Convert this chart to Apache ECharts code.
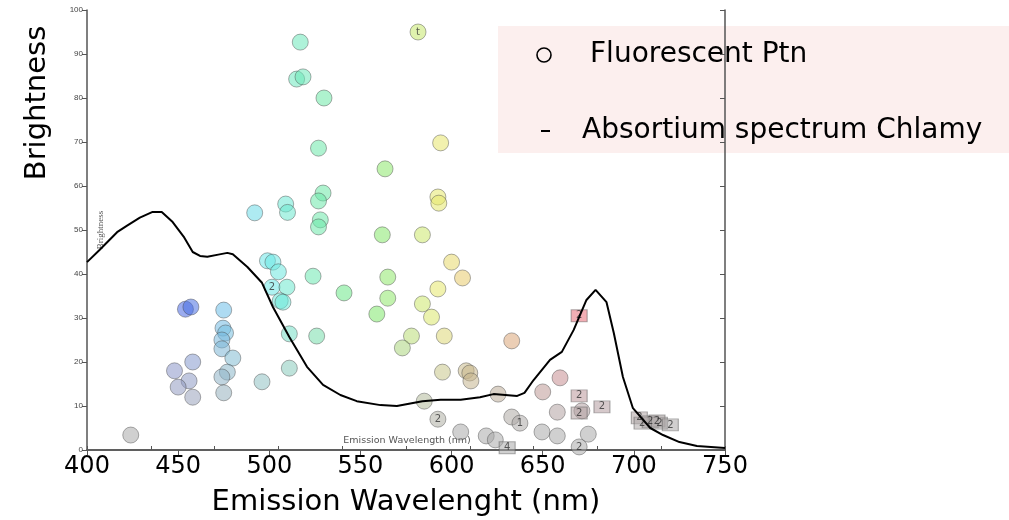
<!DOCTYPE html>
<html>
<head>
<meta charset="utf-8">
<script src="https://cdn.jsdelivr.net/npm/echarts@6/dist/echarts.min.js"></script>
<style>
  html, body { margin: 0; padding: 0; background: #fff; }
  #chart { width: 1009px; height: 520px; }
</style>
</head>
<body>
<div id="chart"></div>
<script>
// absorption spectrum (black line)
const curveX = [400, 407, 416.5, 422, 429, 436, 441, 447, 453, 458, 462, 466, 472, 477, 480, 488, 496, 502, 511, 520.7, 529.5, 539, 548, 561, 570, 584, 594, 605, 615.6, 623, 636, 640, 645, 654, 660.5, 667, 674, 679, 685, 689, 694, 699.5, 709, 716, 725, 734.6, 750]
const curveY = [42.7, 45.5, 49.5, 51.0, 52.8, 54.1, 54.1, 51.8, 48.5, 45.0, 44.1, 43.9, 44.4, 44.8, 44.5, 41.6, 38.0, 32.5, 25.7, 18.9, 14.8, 12.5, 11.1, 10.2, 10.0, 11.1, 11.4, 11.4, 12.0, 12.7, 12.3, 13.0, 15.9, 20.5, 22.3, 27.3, 34.1, 36.4, 33.6, 26.6, 16.6, 9.5, 5.0, 3.4, 1.8, 0.9, 0.45]

// fluorescent proteins (circles)
const circX = [424, 454, 457, 475, 474.6, 476, 474, 474, 480, 477, 474, 475, 458, 448, 456, 450, 458,
  517, 515, 518.5, 530, 581.6, 594, 527, 563.5, 492, 509, 510, 529.5, 527, 528, 527, 592.5, 593, 562, 584,
  499, 502, 505, 524, 565, 600, 606, 501.5, 509.7, 506, 507.5, 541, 565, 592.5, 584, 559, 589,
  511, 526, 578, 596, 573, 511, 496, 595, 608, 610, 610.6, 585, 592.5, 605, 619, 624,
  633, 659.5, 650, 625.5, 658, 671.5, 633, 637.5, 649.6, 658, 675, 670]
const circY = [3.4, 32.0, 32.5, 31.8, 27.7, 26.6, 25.0, 23.0, 20.9, 17.7, 16.6, 13.0, 20, 18, 15.7, 14.3, 12,
  92.7, 84.3, 84.8, 80, 95, 69.8, 68.6, 63.9, 53.9, 55.9, 54, 58.4, 56.6, 52.3, 50.7, 57.5, 56.1, 48.9, 48.9,
  43, 42.7, 40.5, 39.5, 39.3, 42.7, 39.1, 37, 37, 33.9, 33.6, 35.7, 34.5, 36.6, 33.2, 30.9, 30.2,
  26.4, 25.9, 25.9, 25.9, 23.2, 18.6, 15.5, 17.7, 18, 17.5, 15.7, 11.1, 7.0, 4.1, 3.2, 2.3,
  24.8, 16.4, 13.2, 12.7, 8.6, 8.9, 7.5, 6.1, 4.1, 3.2, 3.6, 0.7]
const circLabel = {21: 't', 43: '2', 65: '2', 76: '1', 80: '2'}

// grouped proteins (squares)
const sqX = [670, 670, 682.5, 670, 630.5, 703, 704.5, 709, 712.7, 714, 720]
const sqY = [30.5, 12.3, 9.8, 8.4, 0.5, 7.3, 6.1, 6.4, 6.6, 6.1, 5.7]
const sqLabel = ['2', '2', '2', '2', '4', '2', '2', '2', '2', '2', '2']

const xTicks = { min: 400, max: 750, interval: 50 }
const yTicks = { min: 0, max: 100, interval: 10 }

// colour from wavelength (hue) and brightness (saturation)
const hueStops = [[420, 232], [455, 228], [475, 200], [492, 186], [505, 176], [515, 160], [530, 148], [560, 110], [580, 78], [595, 58], [606, 46], [633, 28], [660, 355], [720, 355]]
function hueAt (nm) {
  if (nm <= hueStops[0][0]) return hueStops[0][1]
  for (let i = 1; i < hueStops.length; i++) {
    const [x1, h1] = hueStops[i]
    const [x0, h0] = hueStops[i - 1]
    if (nm <= x1) {
      let d = h1 - h0
      if (d > 180) d -= 360
      if (d < -180) d += 360
      return (h0 + d * (nm - x0) / (x1 - x0) + 360) % 360
    }
  }
  return hueStops[hueStops.length - 1][1]
}
function pointColor (p) {
  const nm = p.value[0]
  const v = p.value[1]
  const s = Math.max(0, Math.min(1, (v - 5) / 25)) * 72
  const l = v > 28 && nm < 470 ? 58 : 66
  return 'hsla(' + hueAt(nm).toFixed(0) + ',' + s.toFixed(0) + '%,' + l + '%,0.68)'
}

const chart = echarts.init(document.getElementById('chart'))

const labelStyle = {
  show: true,
  formatter: p => p.value[2] || '',
  color: '#333',
  fontSize: 10,
  fontFamily: 'DejaVu Sans'
}

const option = {
  animation: false,
  backgroundColor: '#fff',
  grid: { left: 87, right: 284, top: 10, bottom: 70, containLabel: false, outerBoundsMode: 'none' },
  xAxis: [
    {
      type: 'value',
      position: 'bottom',
      min: xTicks.min,
      max: xTicks.max,
      interval: xTicks.interval,
      splitLine: { show: false },
      axisLine: { lineStyle: { color: '#555', width: 1.5 } },
      axisTick: { length: 5, lineStyle: { color: '#555' } },
      axisLabel: { color: '#000', fontSize: 24, fontFamily: 'DejaVu Sans', margin: 5 },
      name: 'Emission Wavelenght (nm)',
      nameLocation: 'middle',
      nameGap: 38,
      nameTextStyle: { color: '#000', fontSize: 29, fontFamily: 'DejaVu Sans' }
    },
    {
      type: 'value',
      position: 'top',
      min: 0,
      max: 10,
      interval: 1,
      splitLine: { show: false },
      axisLine: { lineStyle: { color: '#555', width: 1.5 } },
      axisTick: { length: 4, lineStyle: { color: '#555' } },
      axisLabel: { show: false }
    }
  ],
  yAxis: [
    {
      type: 'value',
      position: 'left',
      min: yTicks.min,
      max: yTicks.max,
      interval: yTicks.interval,
      splitLine: { show: false },
      axisLine: { show: true, lineStyle: { color: '#555', width: 1.5 } },
      axisTick: { show: true, length: 5, lineStyle: { color: '#555' } },
      axisLabel: { color: '#444', fontSize: 8, fontFamily: 'Liberation Sans', margin: 4 }
    },
    {
      type: 'value',
      position: 'right',
      min: yTicks.min,
      max: yTicks.max,
      interval: yTicks.interval,
      splitLine: { show: false },
      axisLine: { show: true, lineStyle: { color: '#555', width: 1.5 } },
      axisTick: { show: true, inside: true, length: 5, lineStyle: { color: '#555' } },
      axisLabel: { show: false }
    }
  ],
  graphic: [
    // legend box (sits under the right axis line)
    { type: 'rect', z: -1, shape: { x: 498, y: 26, width: 511, height: 127 }, style: { fill: '#fcefee' } },
    { type: 'circle', shape: { cx: 544, cy: 55, r: 7 }, style: { fill: 'none', stroke: '#000', lineWidth: 1.6 } },
    { type: 'text', left: 590, top: 41, style: { text: 'Fluorescent Ptn', fill: '#000', font: '28px "DejaVu Sans"' } },
    { type: 'line', shape: { x1: 541, y1: 131, x2: 550, y2: 131 }, style: { stroke: '#000', lineWidth: 2 } },
    { type: 'text', left: 582, top: 117, style: { text: 'Absortium spectrum Chlamy', fill: '#000', font: '28px "DejaVu Sans"' } },
    // y title
    { type: 'text', x: 37, y: 103, rotation: Math.PI / 2, style: { text: 'Brightness', fill: '#000', font: '29px "DejaVu Sans"', align: 'center', verticalAlign: 'middle' } },
    // leftover labels of the inner plot
    { type: 'text', x: 101, y: 230, rotation: Math.PI / 2, style: { text: 'Brightness', fill: '#555', font: '9px "Liberation Sans Narrow"', align: 'center', verticalAlign: 'middle' } },
    { type: 'text', x: 407, y: 441, style: { text: 'Emission Wavelength (nm)', fill: '#555', font: '9.5px "DejaVu Sans"', align: 'center', verticalAlign: 'middle' } }
  ],
  series: [
    {
      name: 'Fluorescent Ptn',
      type: 'scatter',
      symbol: 'circle',
      symbolSize: 16,
      z: 2,
      data: circX.map((x, i) => [x, circY[i], circLabel[i] || '']),
      itemStyle: { color: pointColor, borderColor: 'rgba(70,70,70,0.55)', borderWidth: 1 },
      label: Object.assign({ position: 'inside' }, labelStyle)
    },
    {
      name: 'Groups',
      type: 'scatter',
      symbol: 'rect',
      symbolSize: [16, 12],
      z: 3,
      data: sqX.map((x, i) => [x, sqY[i], sqLabel[i]]),
      itemStyle: { color: pointColor, borderColor: 'rgba(90,90,90,0.6)', borderWidth: 1 },
      label: Object.assign({ position: 'inside' }, labelStyle)
    },
    {
      name: 'Absortium spectrum Chlamy',
      type: 'line',
      z: 4,
      symbol: 'none',
      data: curveX.map((x, i) => [x, curveY[i]]),
      lineStyle: { color: '#000', width: 2 }
    }
  ]
}

chart.setOption(option)
</script>
</body>
</html>
